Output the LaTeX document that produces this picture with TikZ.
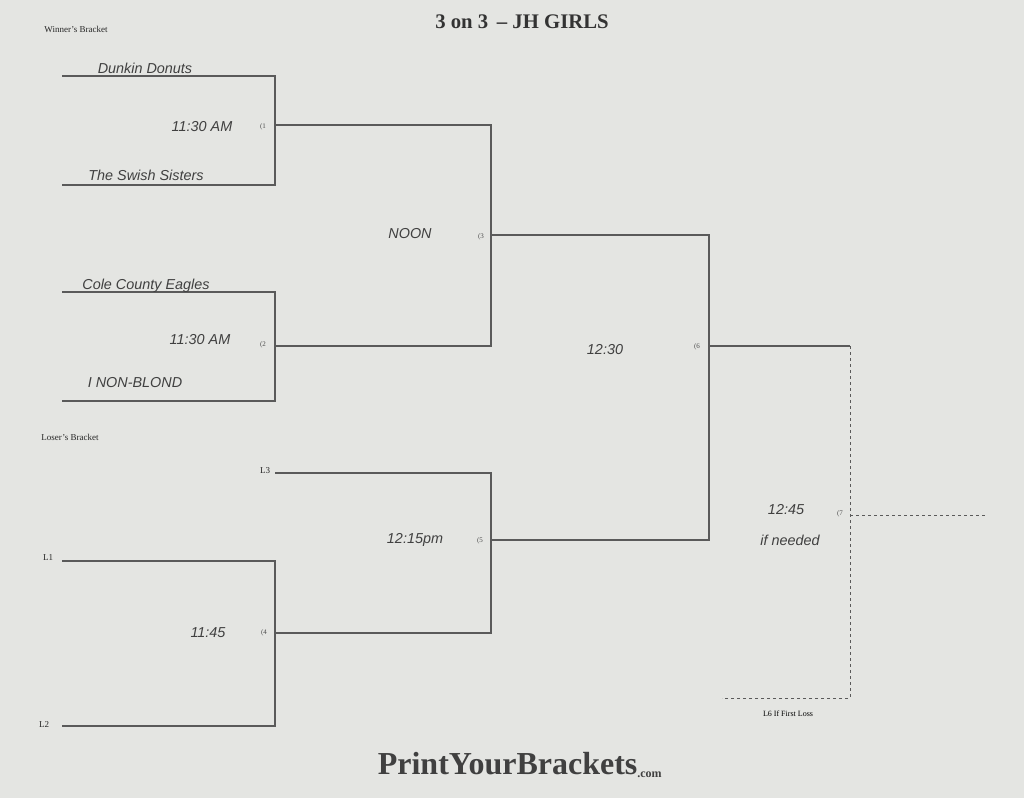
\documentclass[tikz,border=0pt]{standalone}
\usepackage{fontspec}
\setmainfont{Liberation Serif}
\newfontfamily\hand{Liberation Sans}
\usetikzlibrary{calc}
\definecolor{paper}{HTML}{E4E5E2}
\definecolor{ink}{HTML}{5A5A5A}
\tikzset{
    wire/.style={draw=ink, line width=1.2pt},
    dashwire/.style={draw=ink, line width=1pt, dashed},
    written/.style={font=\hand\itshape\Large, text=black!75},
    small-label/.style={font=\small, text=black!85},
    game-num/.style={font=\scriptsize, text=black!70},
}
\begin{document}
\begin{tikzpicture}[x=1pt, y=-1pt]
        \fill[paper] (0,0) rectangle (1024,798);
        \useasboundingbox (0,0) rectangle (1024,798);

        % HEADINGS
        \node[small-label] (WB)    at (76,29)   {Winner's Bracket};
        \node[font=\bfseries\huge, text=black!80] (TITLE) at (522,22) {3 on 3 \,-- JH GIRLS};
        \node[small-label] (LB)    at (70,437)  {Loser's Bracket};
        \node[font=\bfseries\fontsize{32}{36}\selectfont, text=black!75] (LOGO) at (520,765) {PrintYourBrackets\textsubscript{\large .com}};

        % CORNER POINTS
        \coordinate (T1a) at (62,76);   \coordinate (T1b) at (275,76);
        \coordinate (T2a) at (62,185);  \coordinate (T2b) at (275,185);
        \coordinate (T3a) at (62,292);  \coordinate (T3b) at (275,292);
        \coordinate (T4a) at (62,401);  \coordinate (T4b) at (275,401);
        \coordinate (G1a) at (275,125); \coordinate (G1b) at (491,125);
        \coordinate (G2a) at (275,346); \coordinate (G2b) at (491,346);
        \coordinate (G3a) at (491,235); \coordinate (G3b) at (709,235);
        \coordinate (L3a) at (275,473); \coordinate (L3b) at (491,473);
        \coordinate (L1a) at (62,561);  \coordinate (L1b) at (275,561);
        \coordinate (L2a) at (62,726);  \coordinate (L2b) at (275,726);
        \coordinate (G4a) at (275,633); \coordinate (G4b) at (491,633);
        \coordinate (G5a) at (491,540); \coordinate (G5b) at (709,540);
        \coordinate (G6a) at (709,346); \coordinate (G6b) at (850,346);
        \coordinate (G7a) at (850,515); \coordinate (G7b) at (985,515);
        \coordinate (G7c) at (850,698); \coordinate (G7d) at (722,698);

        % WINNER'S WIRES
        \draw[wire] (T1a) -- (T1b) -- (T2b) -- (T2a);
        \draw[wire] (T3a) -- (T3b) -- (T4b) -- (T4a);
        \draw[wire] (G1a) -- (G1b) -- (G2b) -- (G2a);
        \draw[wire] (G3a) -- (G3b) -- (G5b) -- (G5a);
        \draw[wire] (G6a) -- (G6b);

        % LOSER'S WIRES
        \draw[wire] (L3a) -- (L3b) -- (G4b) -- (G4a);
        \draw[wire] (L1a) -- (L1b) -- (L2b) -- (L2a);

        % FINAL (IF NEEDED)
        \draw[dashwire] (G6b) -- (G7c) -- (G7d);
        \draw[dashwire] (G7a) -- (G7b);

        % TEAMS AND TIMES
        \node[written] (DD)   at (145,68)  {Dunkin Donuts};
        \node[written] (SS)   at (146,175) {The Swish Sisters};
        \node[written] (CCE)  at (146,286) {Cole County Eagles};
        \node[written] (NB)   at (135,383) {I NON-BLOND};
        \node[written] (T1)   at (202,127) {11:30 AM};
        \node[written] (T2)   at (200,340) {11:30 AM};
        \node[written] (T3)   at (410,234) {NOON};
        \node[written] (T5)   at (415,540) {12:15pm};
        \node[written] (T4)   at (208,633) {11:45};
        \node[written] (T6)   at (605,350) {12:30};
        \node[written] (T7)   at (786,510) {12:45};
        \node[written] (T7b)  at (790,540) {if needed};

        % GAME NUMBERS
        \node[game-num] (N1) at (263,127) {(1};
        \node[game-num] (N2) at (263,345) {(2};
        \node[game-num] (N3) at (481,237) {(3};
        \node[game-num] (N4) at (264,633) {(4};
        \node[game-num] (N5) at (480,541) {(5};
        \node[game-num] (N6) at (697,347) {(6};
        \node[game-num] (N7) at (840,514) {(7};

        % LOSER SLOTS
        \node[small-label] (L3) at (265,471) {L3};
        \node[small-label] (L1) at (48,558)  {L1};
        \node[small-label] (L2) at (44,725)  {L2};
        \node[font=\footnotesize] (L6) at (788,714) {L6 If First Loss};

    \end{tikzpicture}
\end{document}
